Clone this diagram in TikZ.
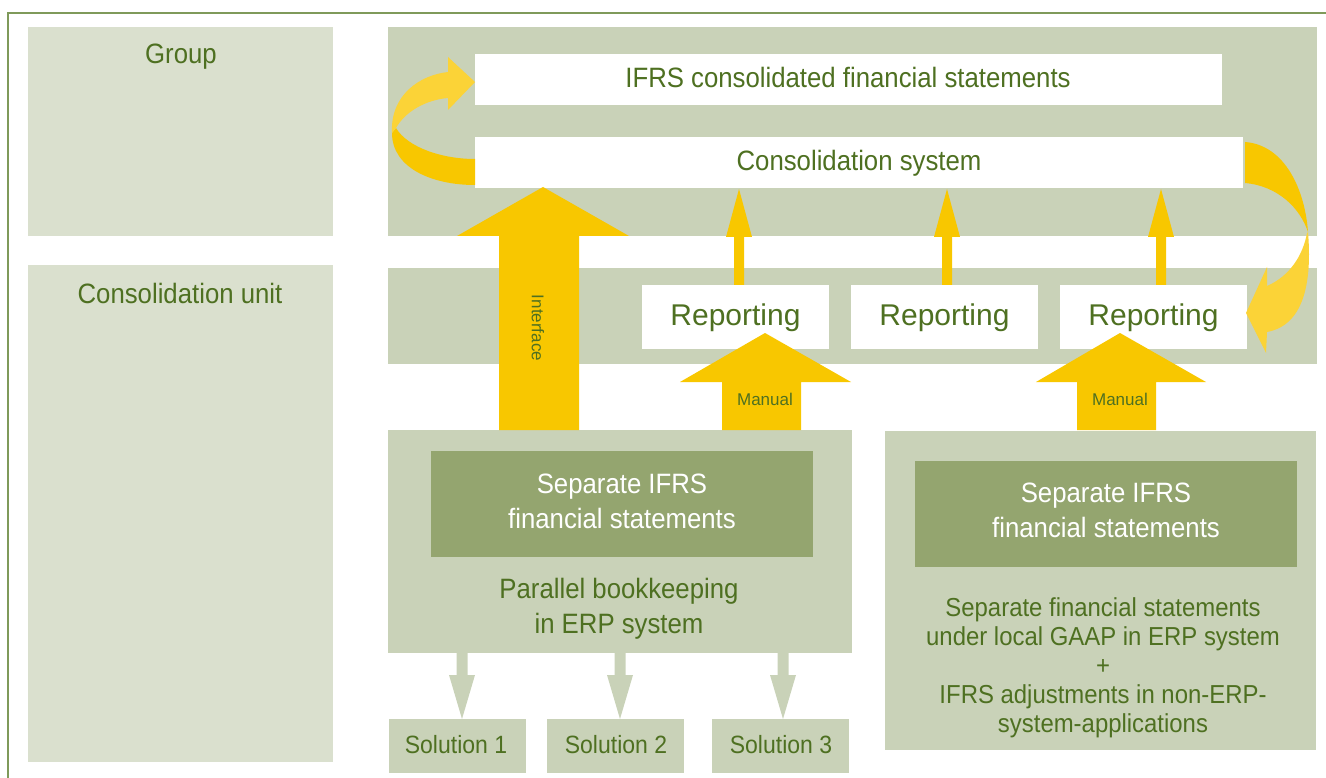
\documentclass[tikz,border=0pt]{standalone}
\usepackage{fontspec}
\setmainfont{Liberation Sans}[FakeStretch=0.92]
\newfontfamily\regfont{Liberation Sans}
\definecolor{framec}{HTML}{7F9A5A}
\definecolor{lightbox}{HTML}{DAE0CE}
\definecolor{bandc}{HTML}{C9D2B8}
\definecolor{darkbox}{HTML}{94A56F}
\definecolor{txt}{HTML}{4E7021}
\definecolor{yel}{HTML}{F8C700}
\definecolor{yell}{HTML}{FBD337}
\tikzset{
  rbox/.style={inner sep=0pt, outer sep=0pt, draw=none},
  lbox/.style={rbox, fill=lightbox},
  bandbox/.style={rbox, fill=bandc},
  wbox/.style={rbox, fill=white},
  dbox/.style={rbox, fill=darkbox},
  lbl/.style={inner sep=0pt, text=txt, font=\fontsize{28}{35}\selectfont, align=center},
  wlbl/.style={lbl, text=white},
  replbl/.style={inner sep=0pt, text=txt, font=\regfont\fontsize{30}{36}\selectfont},
  small/.style={inner sep=0pt, text=txt, font=\regfont\fontsize{17}{20}\selectfont},
  solbl/.style={inner sep=0pt, text=txt, font=\fontsize{25}{30}\selectfont},
  yarrow/.style={fill=yel, draw=none},
  yarrowl/.style={fill=yell, draw=none},
  garrow/.style={fill=bandc, draw=none},
}
\begin{document}
\begin{tikzpicture}[x=1pt,y=-1pt]
\useasboundingbox (0,0) rectangle (1326,778);
% frame
\draw[framec, line width=2.5pt] (8,778) -- (8,13) -- (1326,13);
% left column
\node[lbox, minimum width=305, minimum height=209] (group) at (180.5,131.5) {};
\node[lbox, minimum width=305, minimum height=497] (cunit) at (180.5,513.5) {};
% bands
\node[bandbox, minimum width=929, minimum height=209] (band1) at (852.5,131.5) {};
\node[bandbox, minimum width=929, minimum height=96] (band2) at (852.5,316) {};
% white boxes
\node[wbox, minimum width=747, minimum height=51] (ifrs) at (848.5,79.5) {};
\node[wbox, minimum width=768, minimum height=51] (cons) at (859,162.5) {};
\node[wbox, minimum width=187, minimum height=64] (rep1) at (735.5,317) {};
\node[wbox, minimum width=187, minimum height=64] (rep2) at (944.5,317) {};
\node[wbox, minimum width=187, minimum height=64] (rep3) at (1153.5,317) {};
% lower boxes
\node[bandbox, minimum width=464, minimum height=223] (erp) at (620,541.5) {};
\node[dbox, minimum width=382, minimum height=106] (sepL) at (622,504) {};
\node[bandbox, minimum width=137, minimum height=54] (sol1) at (457.5,746) {};
\node[bandbox, minimum width=137, minimum height=54] (sol2) at (615.5,746) {};
\node[bandbox, minimum width=137, minimum height=54] (sol3) at (780.5,746) {};
\node[bandbox, minimum width=431, minimum height=319] (local) at (1100.5,590.5) {};
\node[dbox, minimum width=382, minimum height=106] (sepR) at (1106,514) {};
% gray arrows erp -> solutions
\foreach \cx/\s in {462/sol1,620/sol2,783/sol3}{
  \fill[garrow] (\cx-5.5,653) -- (\cx-5.5,675) -- (\cx-13,675) -- (\cx,719) -- (\cx+13,675) -- (\cx+5.5,675) -- (\cx+5.5,653) -- cycle;
}
% interface arrow erp -> cons
\fill[yarrow] (499,430) -- (499,236) -- (457,236) -- (543,187) -- (629,236) -- (579,236) -- (579,430) -- cycle;
% manual arrows
\fill[yarrow] (722,430) -- (722,382) -- (680,382) -- (765,333) -- (851,382) -- (801,382) -- (801,430) -- cycle;
\fill[yarrow] (1077,430) -- (1077,382) -- (1036,382) -- (1120,333) -- (1206,382) -- (1156,382) -- (1156,430) -- cycle;
% thin arrows reporting -> cons
\foreach \cx in {739,947,1161}{
  \fill[yarrow] (\cx-5,285) -- (\cx-5,237) -- (\cx-13,237) -- (\cx,189) -- (\cx+13,237) -- (\cx+5,237) -- (\cx+5,285) -- cycle;
}
% left curved arrow cons -> ifrs
\fill[yarrow] (475,159) .. controls (443,159) and (408,148) .. (396,128)
   -- (392,133) .. controls (392,168) and (432,185) .. (475,185) -- cycle;
\fill[yarrowl] (392,133) .. controls (390,95) and (420,75) .. (448,72)
   -- (448,57) -- (475,82) -- (448,110) -- (448,98)
   .. controls (425,100) and (405,112) .. (396,128) -- cycle;
% right curved arrow cons -> rep3
\fill[yarrow] (1245,142) .. controls (1285,145) and (1305,190) .. (1308,232)
   .. controls (1300,208) and (1278,186) .. (1245,183) -- cycle;
\fill[yarrowl] (1308,232) .. controls (1312,280) and (1305,325) .. (1267,332)
   -- (1266,353) -- (1246,313) -- (1267,267) -- (1267,286)
   .. controls (1290,276) and (1303,255) .. (1307,233) -- cycle;
% labels
\node[lbl, anchor=base] (tgroup) at (181,64) {Group};
\node[lbl, anchor=base] (tcunit) at (180,303) {Consolidation unit};
\node[lbl, anchor=base] (tifrs) at (848,88) {IFRS consolidated financial statements};
\node[lbl, anchor=base] (tcons) at (859,171) {Consolidation system};
\node[replbl, anchor=base] (trep1) at (735.5,325) {Reporting};
\node[replbl, anchor=base] (trep2) at (944.5,325) {Reporting};
\node[replbl, anchor=base] (trep3) at (1153.5,325) {Reporting};
\node[small, anchor=base] (tman1) at (765,405) {Manual};
\node[small, anchor=base] (tman2) at (1120,405) {Manual};
\node[small, rotate=-90] (tint) at (538,328) {Interface};
\node[wlbl, anchor=north] (tsepL) at (622,474) {Separate IFRS\\financial statements};
\node[lbl, anchor=north] (terp) at (619,578) {Parallel bookkeeping\\in ERP system};
\node[solbl, anchor=base] (tsol1) at (456,753) {Solution 1};
\node[solbl, anchor=base] (tsol2) at (616,753) {Solution 2};
\node[solbl, anchor=base] (tsol3) at (781,753) {Solution 3};
\node[wlbl, anchor=north] (tsepR) at (1106,483) {Separate IFRS\\financial statements};
\node[lbl, anchor=north, font=\fontsize{26}{29}\selectfont] (tlocal) at (1103,597.4) {Separate financial statements\\under local GAAP in ERP system\\+\\IFRS adjustments in non-ERP-\\system-applications};
\end{tikzpicture}
\end{document}
